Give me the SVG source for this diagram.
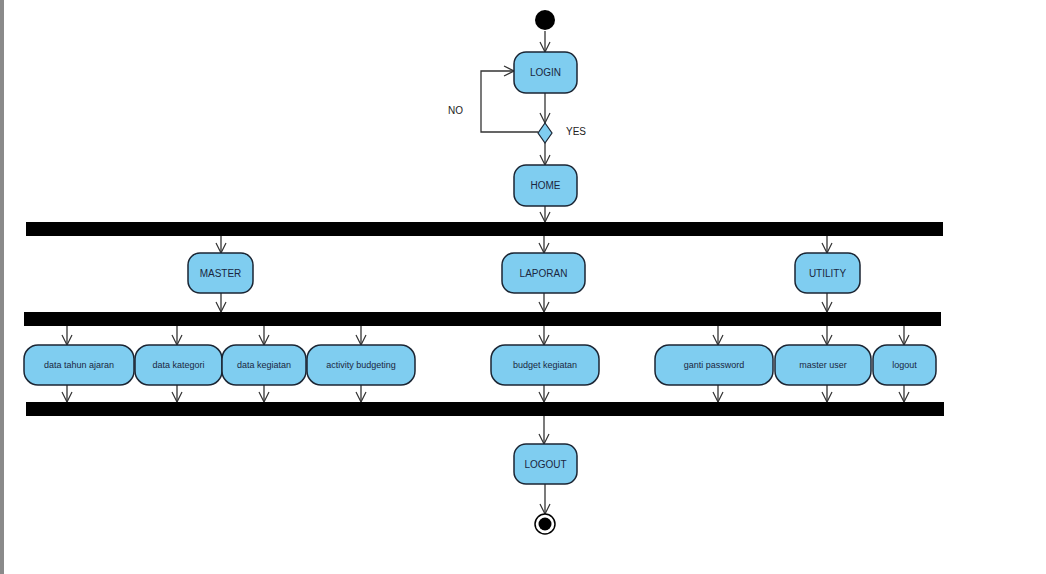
<svg xmlns="http://www.w3.org/2000/svg" width="1046" height="574" viewBox="0 0 1046 574">
<defs>
<marker id="arr" viewBox="0 0 12 12" refX="11" refY="6" markerWidth="12" markerHeight="12" markerUnits="userSpaceOnUse" orient="auto">
<path d="M1,1 L11,6 L1,11" fill="none" stroke="#333" stroke-width="1.2"/>
</marker>
<style>
.n{fill:#7fcdf0;stroke:#1b2533;stroke-width:1.5}
.t{font-family:"Liberation Sans",Arial,sans-serif;font-size:10px;fill:#1a2740;text-anchor:middle}
.s{font-family:"Liberation Sans",Arial,sans-serif;font-size:9px;fill:#1a2740;text-anchor:middle}
.l{font-family:"Liberation Sans",Arial,sans-serif;font-size:10px;fill:#222}
.c{fill:none;stroke:#333;stroke-width:1.3;marker-end:url(#arr)}
.bar{fill:#000}
</style>
</defs>
<rect width="1046" height="574" fill="#fff"/>
<rect x="0" y="0" width="4" height="574" fill="#8a8a8a"/>

<g id="connectors">
<line class="c" x1="545" y1="31" x2="545" y2="52"/>
<line class="c" x1="545" y1="93" x2="545" y2="123"/>
<path class="c" d="M538,132 H481 V71 H514"/>
<line class="c" x1="545" y1="143" x2="545" y2="165"/>
<line class="c" x1="545" y1="206" x2="545" y2="222"/>
<line class="c" x1="221" y1="236" x2="221" y2="253"/>
<line class="c" x1="544" y1="236" x2="544" y2="253"/>
<line class="c" x1="827" y1="236" x2="827" y2="253"/>
<line class="c" x1="221" y1="293" x2="221" y2="312"/>
<line class="c" x1="544" y1="293" x2="544" y2="312"/>
<line class="c" x1="827" y1="293" x2="827" y2="312"/>
<line class="c" x1="67" y1="326" x2="67" y2="345"/>
<line class="c" x1="177" y1="326" x2="177" y2="345"/>
<line class="c" x1="264" y1="326" x2="264" y2="345"/>
<line class="c" x1="361" y1="326" x2="361" y2="345"/>
<line class="c" x1="544" y1="326" x2="544" y2="345"/>
<line class="c" x1="718" y1="326" x2="718" y2="345"/>
<line class="c" x1="827" y1="326" x2="827" y2="345"/>
<line class="c" x1="904" y1="326" x2="904" y2="345"/>
<line class="c" x1="67" y1="385" x2="67" y2="402"/>
<line class="c" x1="177" y1="385" x2="177" y2="402"/>
<line class="c" x1="264" y1="385" x2="264" y2="402"/>
<line class="c" x1="361" y1="385" x2="361" y2="402"/>
<line class="c" x1="544" y1="385" x2="544" y2="402"/>
<line class="c" x1="718" y1="385" x2="718" y2="402"/>
<line class="c" x1="827" y1="385" x2="827" y2="402"/>
<line class="c" x1="904" y1="385" x2="904" y2="402"/>
<line class="c" x1="544" y1="416" x2="544" y2="444"/>
<line class="c" x1="545" y1="484" x2="545" y2="514"/>
<text class="l" x="448" y="114">NO</text>
<text class="l" x="566" y="135">YES</text>
</g>

<g id="start"><circle cx="545" cy="20" r="10" fill="#000"/></g>
<g id="login"><rect class="n" x="514" y="52" width="63" height="41" rx="12"/><text class="t" x="545.5" y="76">LOGIN</text></g>
<g id="decision"><polygon points="545,123 552,133 545,143 538,133" fill="#7fcdf0" stroke="#1b2533" stroke-width="1.2"/></g>
<g id="home"><rect class="n" x="514" y="165" width="63" height="41" rx="12"/><text class="t" x="545.5" y="189">HOME</text></g>
<g id="fork1"><rect class="bar" x="26" y="222" width="917" height="14"/></g>
<g id="master"><rect class="n" x="188" y="253" width="65" height="40" rx="12"/><text class="t" x="220.5" y="277">MASTER</text></g>
<g id="laporan"><rect class="n" x="502" y="253" width="83" height="40" rx="12"/><text class="t" x="543.5" y="277">LAPORAN</text></g>
<g id="utility"><rect class="n" x="795" y="253" width="65" height="40" rx="12"/><text class="t" x="827.5" y="277">UTILITY</text></g>
<g id="fork2"><rect class="bar" x="24" y="312" width="917" height="14"/></g>
<g id="data-tahun-ajaran"><rect class="n" x="24" y="345" width="110" height="40" rx="14"/><text class="s" x="79" y="368">data tahun ajaran</text></g>
<g id="data-kategori"><rect class="n" x="135" y="345" width="87" height="40" rx="14"/><text class="s" x="178.5" y="368">data kategori</text></g>
<g id="data-kegiatan"><rect class="n" x="222" y="345" width="84" height="40" rx="14"/><text class="s" x="264" y="368">data kegiatan</text></g>
<g id="activity-budgeting"><rect class="n" x="307" y="345" width="108" height="40" rx="14"/><text class="s" x="361" y="368">activity budgeting</text></g>
<g id="budget-kegiatan"><rect class="n" x="491" y="345" width="108" height="40" rx="14"/><text class="s" x="545" y="368">budget kegiatan</text></g>
<g id="ganti-password"><rect class="n" x="655" y="345" width="118" height="40" rx="14"/><text class="s" x="714" y="368">ganti password</text></g>
<g id="master-user"><rect class="n" x="775" y="345" width="96" height="40" rx="14"/><text class="s" x="823" y="368">master user</text></g>
<g id="logout-item"><rect class="n" x="873" y="345" width="63" height="40" rx="14"/><text class="s" x="904.5" y="368">logout</text></g>
<g id="join"><rect class="bar" x="26" y="402" width="918" height="14"/></g>
<g id="logout"><rect class="n" x="514" y="444" width="63" height="40" rx="12"/><text class="t" x="545.5" y="468">LOGOUT</text></g>
<g id="end"><circle cx="545" cy="524" r="10" fill="#fff" stroke="#000" stroke-width="1.5"/><circle cx="545" cy="524" r="6.5" fill="#000"/></g>
</svg>
